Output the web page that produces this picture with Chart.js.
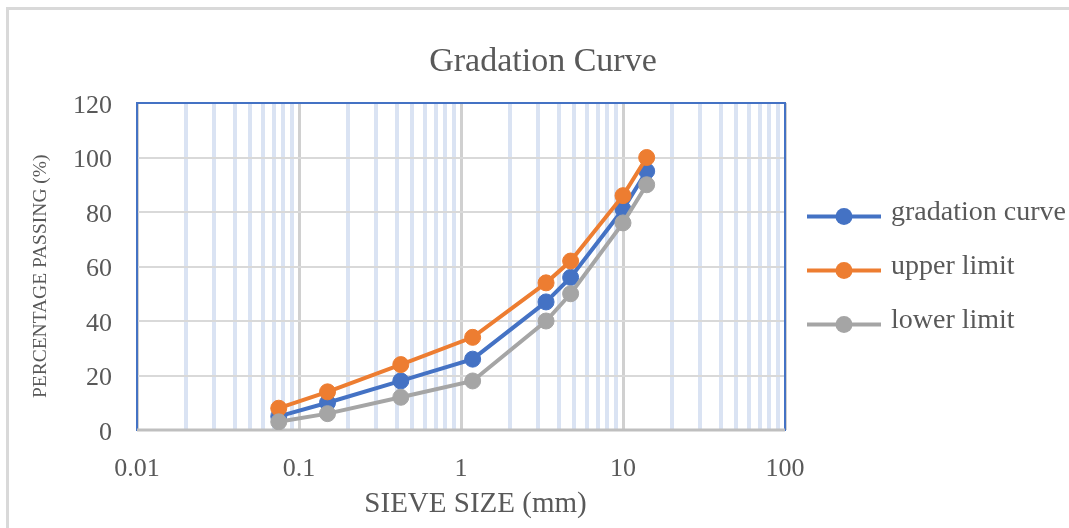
<!DOCTYPE html>
<html>
<head>
<meta charset="utf-8">
<script src="https://cdn.jsdelivr.net/npm/chart.js@4.4.1/dist/chart.umd.min.js"></script>
<style>
  html, body { margin: 0; padding: 0; background: #fff; overflow: hidden; }
  #frame { position: absolute; left: 6px; top: 7px; width: 1100px; height: 600px; border: 3px solid #d9d9d9; }
  #chart { position: absolute; left: 0; top: 0; }
</style>
</head>
<body>
<div id="frame"></div>
<canvas id="chart" width="1069" height="528"></canvas>
<script>
/* global Chart */

// sieve sizes in mm and percentage passing
const sieveSizes = [0.075, 0.15, 0.425, 1.18, 3.35, 4.75, 10, 14]
const gradationCurve = [5, 10, 18, 26, 47, 56, 81, 95]
const upperLimit = [8, 14, 24, 34, 54, 62, 86, 100]
const lowerLimit = [3, 6, 12, 18, 40, 50, 76, 90]
const seriesNames = ['gradation curve', 'upper limit', 'lower limit']
const seriesColors = ['#4472c4', '#ed7d31', '#a5a5a5']
const yTicks = [0, 20, 40, 60, 80, 100, 120]

Chart.defaults.font.family = "'Liberation Serif', 'Times New Roman', serif"
Chart.defaults.color = '#595959'

function isPow10 (v) {
  const l = Math.log10(v)
  return Math.abs(l - Math.round(l)) < 1e-9
}

function wholeMantissa (v) {
  const m = v / Math.pow(10, Math.floor(Math.log10(v) + 1e-9))
  return Math.abs(m - Math.round(m)) < 1e-6
}

function toPoints (values) {
  return sieveSizes.map((x, i) => ({ x, y: values[i] }))
}

// line + marker swatch for the legend (drawn a bit below centre to line up with the text)
function legendSwatch (color) {
  const c = document.createElement('canvas')
  c.width = 74
  c.height = 30
  const g = c.getContext('2d')
  g.strokeStyle = color
  g.lineWidth = 4
  g.beginPath()
  g.moveTo(0, 18.5)
  g.lineTo(74, 18.5)
  g.stroke()
  g.fillStyle = color
  g.beginPath()
  g.arc(37, 18.5, 8.5, 0, Math.PI * 2)
  g.fill()
  return c
}

const swatches = seriesColors.map(legendSwatch)

const plotFrame = {
  id: 'plotFrame',
  beforeDatasetsDraw (chart) {
    const { ctx, chartArea: a } = chart
    ctx.save()
    ctx.lineWidth = 2
    ctx.strokeStyle = '#4472c4'
    ctx.strokeRect(a.left, a.top, a.right - a.left, a.bottom - a.top)
    ctx.strokeStyle = '#bfbfbf'
    ctx.lineWidth = 3
    ctx.beginPath()
    ctx.moveTo(a.left, a.bottom)
    ctx.lineTo(a.right, a.bottom)
    ctx.stroke()
    ctx.restore()
  }
}

function makeDataset (i, values, order) {
  return {
    label: seriesNames[i],
    data: toPoints(values),
    borderColor: seriesColors[i],
    backgroundColor: seriesColors[i],
    pointBackgroundColor: seriesColors[i],
    pointBorderColor: seriesColors[i],
    borderWidth: 4,
    pointRadius: 8,
    pointBorderWidth: 1,
    tension: 0,
    order
  }
}

new Chart(document.getElementById('chart').getContext('2d'), {
  type: 'line',
  data: {
    datasets: [
      makeDataset(0, gradationCurve, 3),
      makeDataset(1, upperLimit, 2),
      makeDataset(2, lowerLimit, 1)
    ]
  },
  options: {
    responsive: false,
    animation: false,
    layout: { padding: { left: 17, right: 0, top: 0, bottom: 0 } },
    scales: {
      x: {
        type: 'logarithmic',
        min: 0.01,
        max: 100,
        afterBuildTicks: scale => { scale.ticks = scale.ticks.filter(t => wholeMantissa(t.value)) },
        afterFit: scale => { scale.height = 98 },
        grid: {
          color: ctx => (ctx.tick && isPow10(ctx.tick.value)) ? '#d0d0d0' : '#dae3f3',
          lineWidth: ctx => (ctx.tick && isPow10(ctx.tick.value)) ? 3 : 4,
          drawTicks: false
        },
        border: { display: false },
        ticks: {
          autoSkip: false,
          maxRotation: 0,
          padding: 24,
          font: { size: 26 },
          callback: v => isPow10(v) ? String(v) : ''
        },
        title: { display: true, text: '    SIEVE SIZE (mm)', font: { size: 29 }, padding: { top: 0, bottom: 6 } }
      },
      y: {
        min: 0,
        max: 120,
        afterBuildTicks: scale => { scale.ticks = yTicks.map(value => ({ value })) },
        afterFit: scale => { scale.width = 120 },
        grid: { color: '#d9d9d9', lineWidth: 2, drawTicks: false },
        border: { display: false },
        ticks: { padding: 25, labelOffset: 3, font: { size: 26 } },
        title: { display: true, text: 'PERCENTAGE PASSING (%)    ', font: { size: 19.5 }, padding: { top: 12, bottom: 0 } }
      }
    },
    plugins: {
      title: {
        display: true,
        text: 'Gradation Curve',
        color: '#595959',
        font: { size: 34, weight: 'normal' },
        padding: { top: 42, bottom: 20.2 }
      },
      legend: {
        position: 'right',
        maxWidth: 284,
        title: { display: true, text: '', font: { size: 5 }, padding: 0 },
        labels: {
          usePointStyle: true,
          pointStyleWidth: 66,
          padding: 26,
          color: '#595959',
          font: { size: 28 },
          generateLabels: chart => chart.data.datasets.map((ds, i) => ({
            text: ds.label,
            fillStyle: seriesColors[i],
            strokeStyle: seriesColors[i],
            lineWidth: 0,
            pointStyle: swatches[i],
            datasetIndex: i,
            hidden: false
          }))
        }
      },
      tooltip: { enabled: false }
    }
  },
  plugins: [plotFrame]
})
</script>
</body>
</html>
